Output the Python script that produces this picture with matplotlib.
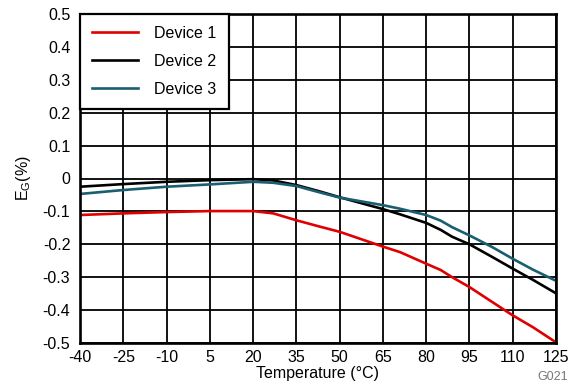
import matplotlib
matplotlib.use("Agg")
import matplotlib.pyplot as plt

plt.rcParams['font.family'] = ['Liberation Sans', 'DejaVu Sans']
plt.rcParams['mathtext.fontset'] = 'custom'
plt.rcParams['mathtext.rm'] = 'Liberation Sans'
plt.rcParams['mathtext.it'] = 'Liberation Sans'
plt.rcParams['axes.unicode_minus'] = False

temps1 = [-40, -25, -10, 5, 20, 27, 35, 43, 50, 65, 71, 80, 85, 89, 95, 103, 110, 117, 125]
device1 = [-0.111, -0.106, -0.102, -0.099, -0.099, -0.106, -0.127, -0.146, -0.162, -0.207, -0.224,
           -0.259, -0.278, -0.300, -0.330, -0.376, -0.416, -0.452, -0.498]
device2 = [-0.025, -0.017, -0.010, -0.005, -0.002, -0.006, -0.020, -0.039, -0.057, -0.093, -0.109,
           -0.135, -0.156, -0.177, -0.200, -0.239, -0.274, -0.308, -0.349]
device3 = [-0.047, -0.035, -0.025, -0.018, -0.010, -0.013, -0.023, -0.042, -0.058, -0.081, -0.092,
           -0.111, -0.128, -0.148, -0.173, -0.209, -0.244, -0.277, -0.311]
labels = ["Device 1", "Device 2", "Device 3"]
colors = ["#e00000", "#000000", "#1a5e70"]
xticks = [-40, -25, -10, 5, 20, 35, 50, 65, 80, 95, 110, 125]
yticks = [-0.5, -0.4, -0.3, -0.2, -0.1, 0, 0.1, 0.2, 0.3, 0.4, 0.5]
yticklabels = ["-0.5", "-0.4", "-0.3", "-0.2", "-0.1", "0", "0.1", "0.2", "0.3", "0.4", "0.5"]

W, H = 579, 387
fig = plt.figure(figsize=(W/100, H/100), dpi=100)
ax = fig.add_axes([80/W, 1 - 343/H, (556-80)/W, (343-14)/H])

for ys, lab, c in zip([device1, device2, device3], labels, colors):
    ax.plot(temps1, ys, color=c, lw=1.9, label=lab, solid_joinstyle='round')

ax.set_xlim(-40, 125)
ax.set_ylim(-0.5, 0.5)
ax.set_xticks(xticks)
ax.set_yticks(yticks)
ax.set_yticklabels(yticklabels)
ax.grid(True, color='black', lw=1.3)
ax.set_axisbelow(True)
for s in ax.spines.values():
    s.set_linewidth(1.9)
    s.set_color('black')
ax.tick_params(axis='y', length=0, labelsize=11.5, pad=7, colors='black')
ax.tick_params(axis='x', length=0, labelsize=11.5, pad=5, colors='black')
ax.set_xlabel("Temperature (°C)", fontsize=11.5, labelpad=1)
ax.set_ylabel("E$_{\\mathregular{G}}$(%)", fontsize=11.5, labelpad=7)

leg = ax.legend(loc='upper left', fontsize=11.5, frameon=True, fancybox=False,
                edgecolor='black', framealpha=1, borderaxespad=0,
                handlelength=2.9, handletextpad=1.0, labelspacing=0.8,
                borderpad=0.75)
leg.get_frame().set_linewidth(1.6)

fig.text(568/W, 1 - 377/H, "G021", fontsize=9, color='#777777', ha='right', va='center')

fig.savefig("out.png", dpi=100)
